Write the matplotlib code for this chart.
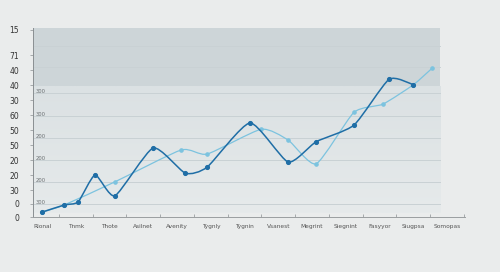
import matplotlib
matplotlib.use('Agg')
import matplotlib.pyplot as plt
import numpy as np
from matplotlib.path import Path
from matplotlib.patches import PathPatch, Rectangle

# categories along the bottom
categories = ['Rlonal', 'Tnmk', 'Thote', 'Asilnet', 'Avenity', 'Tygnly', 'Tygnin',
              'Vsanest', 'Megrint', 'Siegnint', 'Fasyyor', 'Siugpsa', 'Somopas']

# dark series (x in category units, y in axis units)
dark_x = [0.0, 0.65, 1.07, 1.57, 2.16, 3.29, 4.24, 4.89, 6.16, 7.29, 8.12, 9.24, 10.28, 11.0]
dark_y = [3.3, 8.0, 10.2, 28.0, 14.2, 46.0, 29.3, 33.3, 62.7, 36.7, 50.2, 61.3, 91.8, 88.2]

# light series
light_x = [0.0, 0.65, 2.16, 4.12, 4.89, 6.49, 7.29, 8.12, 9.24, 10.1, 11.0, 11.56]
light_y = [3.3, 8.0, 23.5, 44.7, 42.0, 58.5, 51.3, 35.5, 69.8, 75.3, 88.2, 99.3]

# left tick labels (as drawn) and their positions
ytick_pos = [0, 9, 18, 28, 38, 48, 58, 68, 78, 88, 98, 108, 125]
ytick_lab = ['0', '0', '30', '20', '20', '50', '50', '60', '30', '40', '40', '71', '15']

# small labels sitting on the inner gridlines
inner_pos = [8.7, 23.3, 38.0, 52.7, 67.3, 82.7]
inner_lab = ['300', '200', '200', '200', '300', '300']
grid_pos = [8.7, 23.3, 38.0, 52.7, 67.3, 82.7, 100.0, 114.0]

DARK = '#1f6ea6'
LIGHT = '#7cc3df'
TENSION = 0.6


def smooth_path(xs, ys):
    pts = np.column_stack([xs, ys])
    n = len(pts)
    verts = [pts[0]]
    codes = [Path.MOVETO]
    for i in range(n - 1):
        p0 = pts[max(i - 1, 0)]
        p1 = pts[i]
        p2 = pts[i + 1]
        p3 = pts[min(i + 2, n - 1)]
        c1 = p1 + (p2 - p0) / 6.0 * TENSION
        c2 = p2 - (p3 - p1) / 6.0 * TENSION
        verts += [c1, c2, p2]
        codes += [Path.CURVE4] * 3
    return Path(verts, codes)


fig = plt.figure(figsize=(5.0, 2.72), dpi=100, facecolor='#eaecec')
ax = fig.add_axes([0.066, 0.202, 0.864, 0.695])
ax.set_facecolor('none')

x_lo, x_hi = -0.27, 12.53
y_lo, y_hi = 0, 126
panel_right = 11.79
ax.set_xlim(x_lo, x_hi)
ax.set_ylim(y_lo, y_hi)

# panel background: gradient below, darker band on top
grad = np.linspace(0, 1, 100).reshape(-1, 1)
ax.imshow(grad, extent=(x_lo, panel_right, 3, 87.3), origin='lower', aspect='auto',
          cmap=matplotlib.colors.LinearSegmentedColormap.from_list('g', ['#e6eaeb', '#dbe1e3']),
          zorder=0)
ax.add_patch(Rectangle((x_lo, 87.3), panel_right - x_lo, y_hi - 87.3,
                       facecolor='#cdd5d8', edgecolor='none', zorder=0))

for g in grid_pos:
    ax.plot([x_lo, panel_right], [g, g], color='#c9d1d4', lw=0.7, zorder=1)

for p, t in zip(inner_pos, inner_lab):
    ax.text(-0.18, p + 0.8, t, fontsize=3.8, color='#6a6f72', va='center', ha='left', zorder=2)

ax.add_patch(PathPatch(smooth_path(light_x, light_y), fill=False, edgecolor=LIGHT, lw=0.9, zorder=3))
ax.plot(light_x, light_y, ls='none', marker='o', ms=2.3, color=LIGHT, zorder=4)
ax.add_patch(PathPatch(smooth_path(dark_x, dark_y), fill=False, edgecolor=DARK, lw=1.1, zorder=5))
ax.plot(dark_x, dark_y, ls='none', marker='o', ms=2.7, color=DARK, zorder=6)

for s in ['top', 'right']:
    ax.spines[s].set_visible(False)
ax.spines['left'].set_color('#8a8f92')
ax.spines['bottom'].set_color('#9a9ea0')
ax.spines['left'].set_linewidth(0.7)
ax.spines['bottom'].set_linewidth(0.7)

ax.set_yticks(ytick_pos)
ax.set_yticklabels(ytick_lab)
ax.tick_params(axis='y', length=2, width=0.5, color='#8a8f92', pad=8,
               labelsize=5.5, labelcolor='#333333')

ax.set_xticks(range(len(categories)))
ax.set_xticklabels(categories)
ax.set_xticks(np.arange(0.5, 12.6, 0.5), minor=True)
ax.tick_params(axis='x', which='both', length=0, pad=5, labelsize=4.2, labelcolor='#555555')
ax.tick_params(axis='x', which='minor', direction='in', length=2, width=0.5, color='#8a8f92')

fig.savefig('out.png', dpi=100, facecolor=fig.get_facecolor())
